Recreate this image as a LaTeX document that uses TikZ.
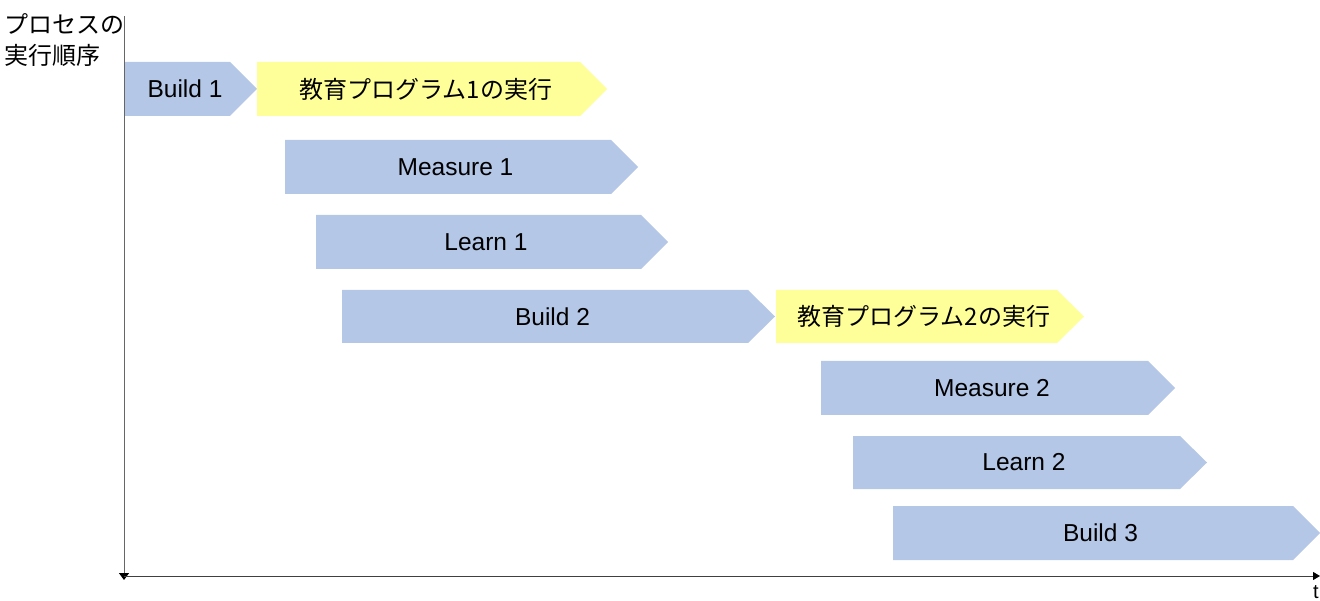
\documentclass[tikz,border=0pt]{standalone}
\usepackage{fontspec}
\setmainfont{Liberation Sans}
\newfontfamily\jp{Noto Sans CJK JP}
\usetikzlibrary{arrows.meta}
\definecolor{procblue}{HTML}{B4C7E7}
\definecolor{procyellow}{HTML}{FFFF99}
\tikzset{
  lbl/.style={font=\fontsize{24.5}{28}\selectfont, text=black, inner sep=0pt},
  jlbl/.style={font=\jp\fontsize{24}{28}\selectfont, text=black, inner sep=0pt},
}
% #1 name, #2 left, #3 tip x, #4 top, #5 bottom, #6 colour, #7 style, #8 text
\newcommand{\procbox}[8]{%
  \fill[#6] (#2,#4) -- ({#3-27},#4) -- (#3,{(#4+#5)/2}) -- ({#3-27},#5) -- (#2,#5) -- cycle;
  \node[#7] (#1) at ({(#2+#3)/2-6},{(#4+#5)/2}) {#8};
}
\begin{document}
\begin{tikzpicture}[x=1pt,y=-1pt]
\useasboundingbox (0,0) rectangle (1320,601);
\node[jlbl, anchor=north west, align=left, font=\jp\fontsize{24}{31}\selectfont] (ylabel) at (4,13) {プロセスの\\実行順序};
\coordinate (vtop) at (124,16);
\coordinate (origin) at (124,580);
\coordinate (hstart) at (124,576);
\coordinate (hend) at (1320,576);
\draw[gray!80!black, line width=1pt, -{Triangle[length=7pt,width=10pt,color=black]}] (vtop) -- (origin);
\draw[black!75, line width=1pt, -{Triangle[length=7pt,width=8pt,color=black]}] (hstart) -- (hend);
\node[lbl, font=\fontsize{20}{22}\selectfont] (t) at (1316,592) {t};

\procbox{b1}{125}{257}{62}{116}{procblue}{lbl}{Build 1}
\procbox{p1}{257}{607}{62}{116}{procyellow}{jlbl}{教育プログラム1の実行}
\procbox{m1}{285}{638}{140}{194}{procblue}{lbl}{Measure 1}
\procbox{l1}{316}{668}{215}{269}{procblue}{lbl}{Learn 1}
\procbox{b2}{342}{775}{290}{343}{procblue}{lbl}{Build 2}
\procbox{p2}{776}{1084}{290}{343}{procyellow}{jlbl}{教育プログラム2の実行}
\procbox{m2}{821}{1175}{361}{415}{procblue}{lbl}{Measure 2}
\procbox{l2}{853}{1207}{436}{489}{procblue}{lbl}{Learn 2}
\procbox{b3}{893}{1320}{506}{560}{procblue}{lbl}{Build 3}
\end{tikzpicture}
\end{document}
